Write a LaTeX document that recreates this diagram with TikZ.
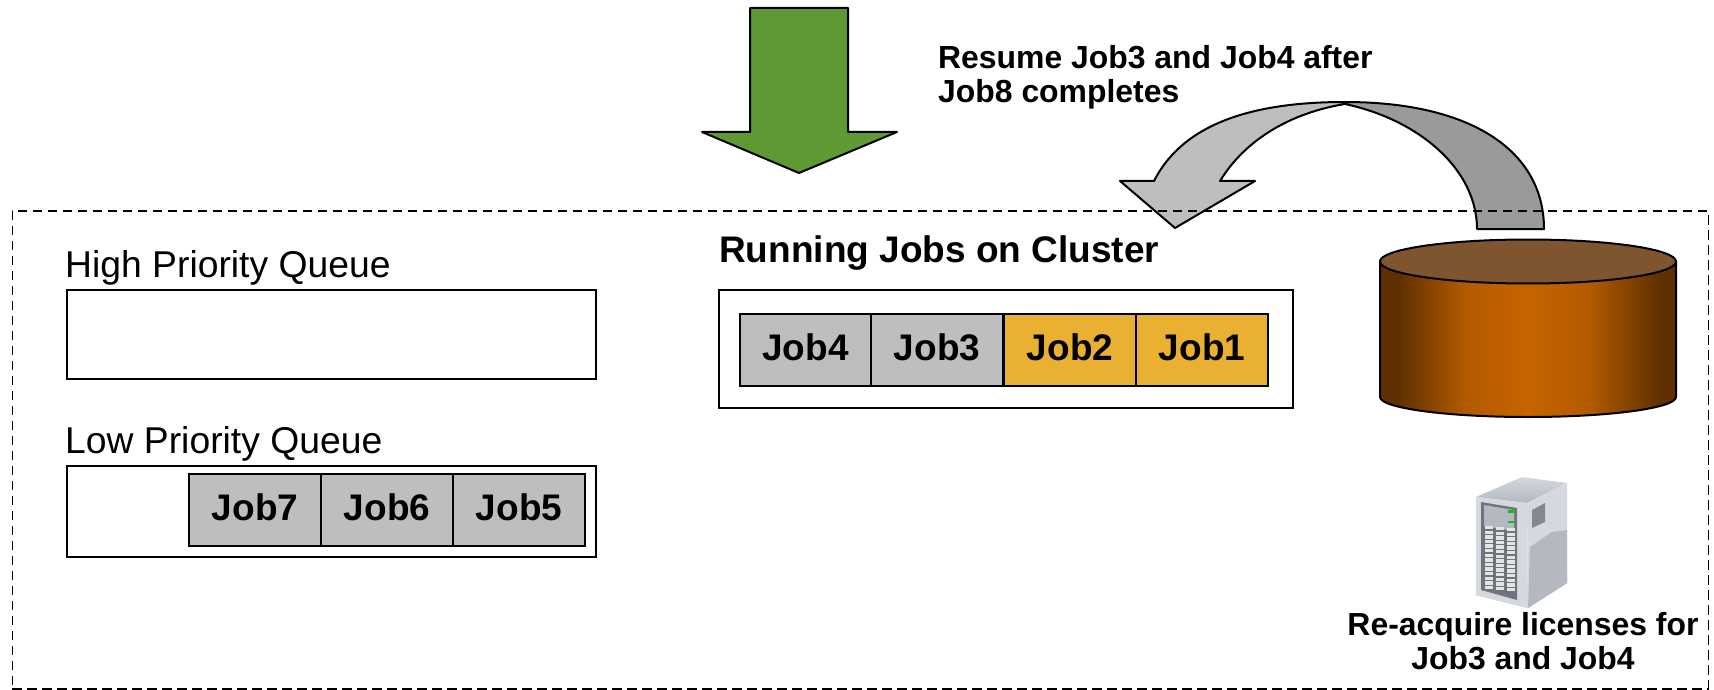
\documentclass[tikz,border=0pt]{standalone}
\usepackage{fontspec}
\setmainfont{Liberation Sans}
\definecolor{jobgray}{HTML}{BCBEC0}
\definecolor{jobgold}{HTML}{EAB032}
\definecolor{arrowgreen}{HTML}{5F9933}
\definecolor{arrowdark}{HTML}{999A9C}
\definecolor{cyltop}{HTML}{7F5530}
\definecolor{cyldark}{HTML}{5F3000}
\definecolor{cylsoft}{HTML}{B25A00}
\definecolor{cylmid}{HTML}{C86400}
\definecolor{srvlight}{HTML}{D5D8DE}
\definecolor{srvmid}{HTML}{B4B8C0}
\definecolor{srvdark}{HTML}{70747C}
\tikzset{
  qbox/.style={draw=black,line width=2pt,fill=white,inner sep=0pt,anchor=north west},
  jobcell/.style={draw=black,line width=2pt,inner sep=0pt,minimum width=132pt,minimum height=72pt,text depth=6pt,font=\fontsize{37}{40}\bfseries\selectfont},
  grayjob/.style={jobcell,fill=jobgray},
  goldjob/.style={jobcell,fill=jobgold},
  qlabel/.style={anchor=base west,inner sep=0pt,font=\fontsize{37.3}{40}\selectfont},
  boldnote/.style={inner sep=0pt,font=\fontsize{31.9}{34}\bfseries\selectfont},
  shapeline/.style={draw=black,line width=2pt,line join=round},
}
\begin{document}
\begin{tikzpicture}[x=1pt,y=-1pt]
\useasboundingbox (0,0) rectangle (1714,690);
% green arrow
\draw[shapeline,fill=arrowgreen] (750,8) -- (848,8) -- (848,132) -- (897,132) -- (799,173) -- (702,132) -- (750,132) -- cycle;
% curved arrow
\fill[jobgray] (1345,102) .. controls (1260,102) and (1185,120) .. (1154,181) -- (1120,181) -- (1175,228) -- (1255,181) -- (1220,181) .. controls (1245,140) and (1290,113) .. (1345,104) -- cycle;
\fill[arrowdark] (1345,102) .. controls (1470,102) and (1544,150) .. (1544,229) -- (1477,229) .. controls (1477,170) and (1420,120) .. (1345,104) -- cycle;
\draw[shapeline] (1544,229) .. controls (1544,150) and (1470,102) .. (1345,102) .. controls (1260,102) and (1185,120) .. (1154,181) -- (1120,181) -- (1175,228) -- (1255,181) -- (1220,181) .. controls (1245,140) and (1290,113) .. (1345,104) .. controls (1420,120) and (1477,170) .. (1477,229) -- cycle;
% dashed frame
\node[draw=black,line width=1.8pt,dash pattern=on 9.5pt off 5.5pt,inner sep=0pt,anchor=north west,minimum width=1696pt,minimum height=478pt] (frame) at (11.5,210) {};
% texts
\node[boldnote,anchor=base west,align=left] (resume) at (938,103) {Resume Job3 and Job4 after\\Job8 completes};
\node[qlabel] (highlabel) at (65,277) {High Priority Queue};
\node[qlabel] (lowlabel) at (65,453) {Low Priority Queue};
\node[anchor=base west,inner sep=0pt,font=\fontsize{37}{40}\bfseries\selectfont] (runlabel) at (719,262) {Running Jobs on Cluster};
% queues
\node[qbox,minimum width=529pt,minimum height=89pt] (highq) at (66,289) {};
\node[qbox,minimum width=529pt,minimum height=91pt] (lowq) at (66,465) {};
\node[qbox,minimum width=574pt,minimum height=118pt] (runq) at (718,289) {};
% jobs
\node[grayjob] (job7) at (255,510) {Job7};
\node[grayjob] (job6) at (387,510) {Job6};
\node[grayjob] (job5) at (519,510) {Job5};
\node[grayjob] (job4) at (805.5,350) {Job4};
\node[grayjob] (job3) at (937,350) {Job3};
\node[goldjob] (job2) at (1070,350) {Job2};
\node[goldjob] (job1) at (1202,350) {Job1};
% cylinder
\begin{scope}
\clip (1380,261) -- (1380,397) arc[x radius=148,y radius=20,start angle=180,end angle=0] -- (1676,261) -- cycle;
\fill[cyldark] (1380,230) rectangle (1676,420);
\shade[left color=cyldark,right color=cylsoft] (1398,230) rectangle (1465,420);
\shade[left color=cylsoft,right color=cylmid] (1464.5,230) rectangle (1527,420);
\shade[left color=cylmid,right color=cylsoft] (1526.5,230) rectangle (1590,420);
\shade[left color=cylsoft,right color=cyldark] (1589.5,230) rectangle (1660,420);
\end{scope}
\draw[shapeline] (1380,261) -- (1380,397) arc[x radius=148,y radius=20,start angle=180,end angle=0] -- (1676,261);
\draw[shapeline,fill=cyltop] (1528,261.5) ellipse[x radius=148,y radius=22];
% server icon
\fill[srvmid] (1476,595) -- (1528,608) -- (1567,583) -- (1567,575) -- cycle;
\shade[top color=srvlight,bottom color=srvmid] (1476,497) -- (1522,477) -- (1567,483) -- (1527,503) -- cycle;
\fill[srvlight] (1527,503) -- (1567,483) -- (1567,583) -- (1528,608) -- cycle;
\fill[srvmid] (1530,547) -- (1552,532) -- (1567,530) -- (1567,583) -- (1528,608) -- cycle;
\fill[srvdark!70!srvmid] (1532,510) -- (1545,503) -- (1545,522) -- (1532,528) -- cycle;
\fill[srvlight] (1476,497) -- (1527,503) -- (1528,608) -- (1476,595) -- cycle;
\fill[srvdark] (1481,502) -- (1517,508) -- (1517,600) -- (1481,590) -- cycle;
\fill[srvmid] (1484,505) -- (1514,510) -- (1514,521) -- (1484,516) -- cycle;
\fill[srvmid] (1484,515) -- (1514,520) -- (1514,531) -- (1484,526) -- cycle;
\fill[green!80!black] (1508,510) rectangle (1514,513);
\fill[green!80!black] (1508,521) rectangle (1514,523);
\foreach \c in {0,1,2}{
  \foreach \r in {0,...,13}{
    \fill[white!90!black] ({1485+\c*11},{526+\r*4.6+\c*1}) rectangle ({1493+\c*11},{529.4+\r*4.6+\c*1});
  }
}
\node[boldnote,anchor=base,align=center] (reacquire) at (1523,669) {Re-acquire licenses for\\Job3 and Job4};
\end{tikzpicture}
\end{document}
